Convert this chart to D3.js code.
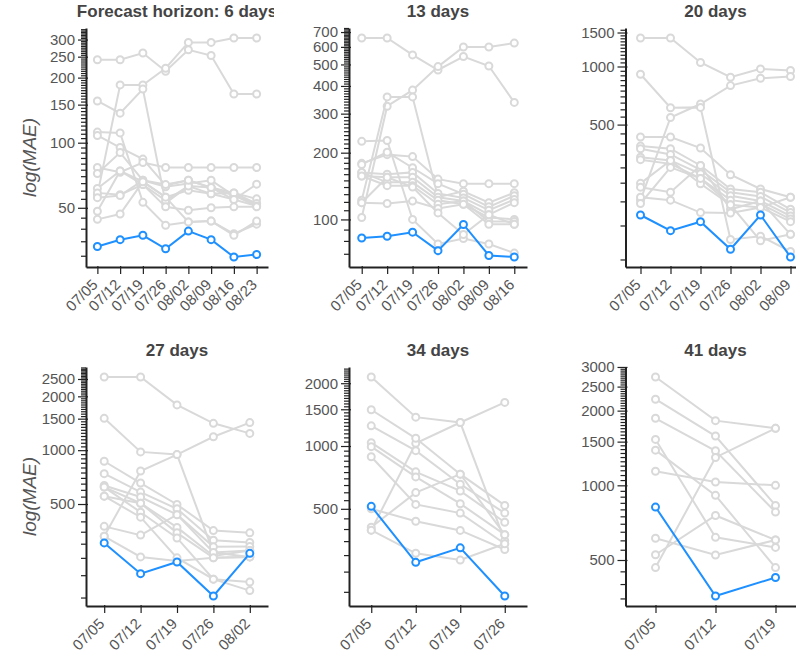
<!DOCTYPE html>
<head>
<meta charset="utf-8">
<style>
body {
    margin: 0;
}
svg text {
    font-family: "Liberation Sans", Arial, sans-serif;
}
.series path {
    fill: none;
    stroke-width: 2;
}
.series circle {
    fill: #fff;
    stroke-width: 2;
}
.domain {
    stroke: #222;
    stroke-width: 2;
}
.tick line {
    stroke: #222;
    stroke-width: 1.2;
}
.tick text {
    fill: #555;
    font-size: 15px;
}
.title {
    fill: #444;
    font-size: 17px;
    font-weight: bold;
    text-anchor: middle;
}
.ylabel {
    fill: #555;
    font-size: 19px;
    font-style: italic;
    text-anchor: middle;
}
</style>
</head>
<body>
<div class="viz"></div>

<script src="https://d3js.org/d3.v7.min.js"></script>
<script>
const dates = ["07/05", "07/12", "07/19", "07/26", "08/02", "08/09", "08/16", "08/23"];
const titles = ["Forecast horizon: 6 days", "13 days", "20 days", "27 days", "34 days", "41 days"];

// y tick labels and minor tick step for each panel
const labels6 = [50, 100, 150, 200, 250, 300];
const labels13 = [100, 200, 300, 400, 500, 600, 700];
const labels20 = [500, 1000, 1500];
const labels27 = [500, 1000, 1500, 2000, 2500];
const labels34 = [500, 1000, 1500, 2000];
const labels41 = [500, 1000, 1500, 2000, 2500, 3000];
const minorSteps = [5, 10, 50, 50, 50, 50];

// highlighted model
const blue6 = [33.1, 35.6, 37.3, 32.3, 39.0, 35.6, 29.6, 30.4];
const blue13 = [82.5, 84, 87.6, 72.3, 94.9, 68.8, 67.7];
const blue20 = [170, 141, 157, 113, 170, 103];
const blue27 = [303, 204, 237, 153, 265];
const blue34 = [514, 277, 325, 191];
const blue41 = [817, 358, 425];

// other models
const grey6 = [
    [242, 242, 260, 214, 269, 253, 168, 168],
    [57.5, 185, 185, 221, 291, 291, 305, 305],
    [156, 137, 177, 52.6, 63, 62, 57, 52.3],
    [112, 111, 53, 41.5, 43, 43.4, 37.9, 42],
    [108, 95, 84, 63.5, 67, 62, 58.6, 55],
    [76.8, 73, 81, 76.8, 76.8, 76.8, 76.8, 76.8],
    [72, 90, 67, 62.5, 64.7, 67, 57, 51],
    [61.4, 74, 66, 56, 60.2, 58, 54.6, 64.3],
    [58.6, 57.5, 64, 54, 63, 58, 58.6, 52.3],
    [55.7, 57, 67, 64, 67, 62, 54.6, 51],
    [48.2, 74, 64, 50.5, 48.7, 50, 50.5, 50.5],
    [44.2, 46.8, 66, 56, 43, 43.4, 37.3, 43.4]
];
const grey13 = [
    [658, 658, 552, 472, 543, 492, 337],
    [102, 324, 383, 489, 599, 599, 624],
    [122, 357, 357, 126, 134, 119, 132],
    [225, 227, 100, 77.5, 82, 77.5, 70.5],
    [179, 196, 192, 152, 145, 145, 145],
    [177, 201, 171, 145, 130, 114, 128],
    [163, 160, 163, 131, 125, 110, 123],
    [157, 155, 155, 126, 121, 105, 119],
    [163, 147, 147, 122, 117, 102, 100],
    [157, 142, 142, 117, 121, 98, 98],
    [119, 118, 121, 112, 117, 95, 95],
    [119, 155, 140, 107, 85.5, 105, 95]
];
const grey20 = [
    [1405, 1405, 1049, 880, 972, 953],
    [203, 544, 639, 796, 869, 887],
    [912, 611, 614, 127, 132, 110],
    [431, 431, 378, 275, 232, 210],
    [387, 375, 307, 232, 223, 182],
    [375, 350, 291, 223, 212, 175],
    [339, 326, 278, 214, 201, 168],
    [329, 313, 263, 203, 194, 162],
    [248, 326, 247, 192, 186, 157],
    [237, 223, 307, 182, 201, 135],
    [210, 203, 175, 174, 186, 210],
    [195, 300, 263, 192, 125, 135]
];
const grey27 = [
    [2565, 2565, 1791, 1413, 1241],
    [330, 765, 945, 1188, 1426],
    [1507, 978, 945, 268, 253],
    [867, 655, 497, 355, 345],
    [739, 583, 470, 314, 305],
    [635, 547, 436, 288, 289],
    [622, 505, 370, 256, 275],
    [553, 505, 345, 250, 253],
    [375, 335, 436, 268, 275],
    [330, 253, 240, 250, 253],
    [622, 450, 323, 190, 164],
    [553, 422, 250, 190, 183]
];
const grey34 = [
    [2142, 1375, 1296, 352],
    [395, 1030, 1296, 1618],
    [1492, 1089, 733, 519],
    [1249, 950, 656, 477],
    [1038, 752, 609, 431],
    [993, 711, 529, 376],
    [888, 525, 477, 340],
    [408, 598, 733, 376],
    [500, 436, 394, 319],
    [395, 306, 284, 340]
];
const grey41 = [
    [2733, 1823, 1697],
    [2224, 1580, 830],
    [1863, 1378, 780],
    [1531, 617, 562],
    [1386, 911, 466],
    [1140, 1031, 1000],
    [612, 524, 602],
    [525, 756, 602],
    [466, 1295, 1697]
];

const panels = [
    { grey: grey6, blue: blue6, labels: labels6 },
    { grey: grey13, blue: blue13, labels: labels13 },
    { grey: grey20, blue: blue20, labels: labels20 },
    { grey: grey27, blue: blue27, labels: labels27 },
    { grey: grey34, blue: blue34, labels: labels34 },
    { grey: grey41, blue: blue41, labels: labels41 }
];

const GREY = "#d9d9d9";
const BLUE = "#1e90ff";

const cellW = 274, cellH = 339;
const marginLeft = [86, 75, 77.5];
const plotW = [182, 178, 180];
const marginTop = 28, plotH = 239, pad = 10;

const svg = d3.select(".viz")
              .append("svg")
                  .attr("width", 796)
                  .attr("height", 653);

panels.forEach(function(p, i) {
    const col = i % 3, row = Math.floor(i / 3);
    const w = plotW[col], h = plotH;
    const n = p.blue.length;

    const cell = svg.append("svg")
                    .attr("x", col * cellW)
                    .attr("y", row * cellH)
                    .attr("width", cellW)
                    .attr("height", cellH)
                    .style("overflow", "hidden");
    const g = cell.append("g")
                  .attr("transform", "translate(" + marginLeft[col] + "," + marginTop + ")");

    const x = d3.scalePoint()
                .domain(dates.slice(0, n))
                .range([0, w])
                .padding(0.5);

    const all = p.grey.flat().concat(p.blue);
    const inner = d3.scaleLog()
                    .domain(d3.extent(all))
                    .range([h - pad, pad]);
    const y = d3.scaleLog()
                .domain([inner.invert(h), inner.invert(0)])
                .range([h, 0]);

    // minor ticks
    const step = minorSteps[i];
    const dom = y.domain();
    const minor = d3.range(Math.ceil(dom[0] / step) * step, dom[1], step)
                    .filter(function(v) { return p.labels.indexOf(v) < 0; });
    const yMinor = g.append("g")
                    .call(d3.axisLeft(y).tickValues(minor).tickSize(5).tickFormat(""));
    yMinor.select(".domain").remove();

    const yAxis = g.append("g")
                   .call(d3.axisLeft(y)
                           .tickValues(p.labels)
                           .tickSizeInner(8)
                           .tickSizeOuter(0)
                           .tickPadding(3)
                           .tickFormat(d3.format("d")));
    yAxis.selectAll(".tick line").attr("x1", 2);

    const xAxis = g.append("g")
                   .attr("transform", "translate(0," + h + ")")
                   .call(d3.axisBottom(x).tickSizeInner(7).tickSizeOuter(0));
    xAxis.selectAll(".tick line").attr("y1", -1);
    xAxis.selectAll(".tick text")
         .attr("x", 0)
         .attr("y", 0)
         .attr("dy", "0.35em")
         .attr("transform", "translate(-3,15) rotate(-45)")
         .style("text-anchor", "end");

    const line = d3.line()
                   .x(function(d, j) { return x(dates[j]); })
                   .y(function(d) { return y(d); });

    function drawSeries(values, color) {
        const s = g.append("g").attr("class", "series");
        s.append("path")
         .attr("d", line(values))
         .style("stroke", color);
        s.selectAll("circle")
         .data(values)
         .enter()
         .append("circle")
             .attr("cx", function(d, j) { return x(dates[j]); })
             .attr("cy", function(d) { return y(d); })
             .attr("r", 3.5)
             .style("stroke", color);
    }
    p.grey.forEach(function(s) { drawSeries(s, GREY); });
    drawSeries(p.blue, BLUE);

    g.append("text")
     .attr("class", "title")
     .attr("x", w / 2)
     .attr("y", -11)
     .text(titles[i]);

    if (col === 0) {
        g.append("text")
         .attr("class", "ylabel")
         .attr("transform", "translate(-50," + (h / 2 + 10) + ") rotate(-90)")
         .text("log(MAE)");
    }
});
</script>
</body>
